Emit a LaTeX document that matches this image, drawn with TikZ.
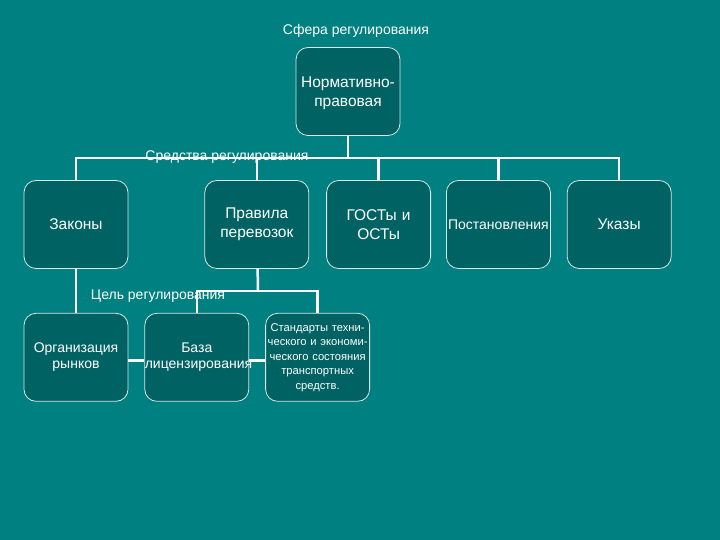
\documentclass[tikz,border=0pt]{standalone}
\usepackage{fontspec}
\setmainfont{Liberation Sans}
\usepackage{tikz}
\usetikzlibrary{positioning}

\definecolor{bgteal}{RGB}{0,128,128}
\definecolor{boxteal}{RGB}{0,98,98}
\definecolor{boxline}{RGB}{215,230,230}

\begin{document}
\begin{tikzpicture}[x=1pt,y=-1pt,line width=2.5pt]

	\tikzset{box st/.style={draw=boxline, line width=0.8pt,
			fill=boxteal, rounded corners=12pt,
			minimum width=104pt, minimum height=88pt, text width=104pt,
			inner sep=0pt, align=center, text=white,
			font=\fontsize{15.5}{18.6}\selectfont},
		small st/.style={box st, font=\fontsize{14}{16.5}\selectfont},
		tiny st/.style={box st, font=\fontsize{11.2}{14.5}\selectfont},
		conn st/.style={draw=white, line width=2.5pt},
		lbl st/.style={text=white, inner sep=0pt,
			font=\fontsize{14}{16}\selectfont}}

	\fill[bgteal] (0,0) rectangle (720,540);
	\useasboundingbox (0,0) rectangle (720,540);

	\node[lbl st] (sphere) at (356,31) {Сфера регулирования};
	\node[box st] (norm) at (348,91.5) {\\[-4pt]Нормативно-\\правовая};

	% second row
	\node[box st] (zak) at (76,224.5) {Законы};
	\node[box st, right=76pt of zak] (prav) {Правила\\перевозок};
	\node[box st, right=17pt of prav] (gost) {ГОСТы и\\ОСТы};
	\node[box st, right=15pt of gost, font=\fontsize{14}{16}\selectfont] (post) {Постановления};
	\node[box st, right=16pt of post] (ukaz) {Указы};

	% third row
	\node[small st, below=44pt of zak] (org) {Организация\\рынков};
	\node[small st, right=16pt of org] (baza) {База\\лицензирования};
	\node[tiny st, right=16pt of baza] (stand) {Стандарты техни-\\ческого и экономи-\\ческого состояния\\транспортных\\средств.};

	\coordinate (bus) at (348,158);
	\coordinate (split) at (258,291);

	\draw[conn st] (norm) -- (bus);
	\draw[conn st] (zak.north) |- (bus) -| (ukaz.north);
	\foreach \n in {prav,gost,post}
		\draw[conn st] (\n.north) -- (\n.north |- bus);
	\draw[conn st] (zak) -- (org);
	\draw[conn st] (prav) -- (split);
	\draw[conn st] (baza.north) |- (split) -| (stand.north);
	\draw[conn st] ([yshift=-3pt]org.east) -- ([yshift=-3pt]baza.west);
	\draw[conn st] ([yshift=-3pt]baza.east) -- ([yshift=-3pt]stand.west);

	\node[lbl st] (means) at (227,157) {Средства регулирования};
	\node[lbl st] (goal) at (158,296) {Цель регулирования};

\end{tikzpicture}
\end{document}
